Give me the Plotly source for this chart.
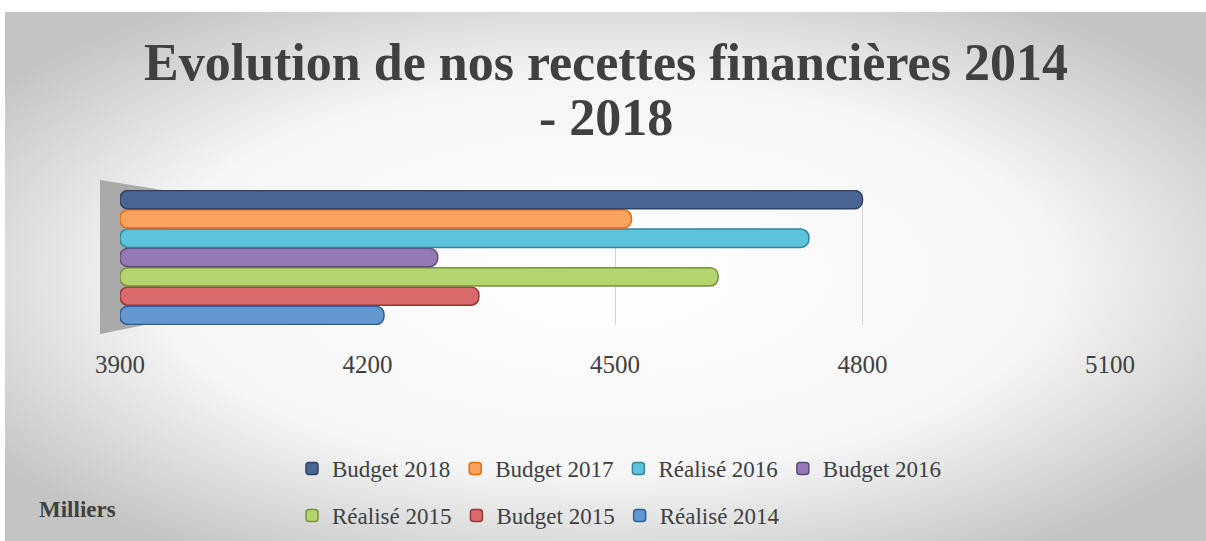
import base64
import plotly.graph_objects as go

# values in thousands
series = ["Réalisé 2014", "Budget 2015", "Réalisé 2015", "Budget 2016",
          "Réalisé 2016", "Budget 2017", "Budget 2018"]
values = [4220, 4335, 4625, 4285, 4735, 4520, 4800]
fills = ["#6496d0", "#d9696a", "#b3d46f", "#9479b5", "#5dc3dc", "#f9a45e", "#4a6591"]
edges = ["#2f5f98", "#953735", "#76923c", "#5f4b7b", "#31859c", "#e46c0a", "#2c4266"]
ticks = [3900, 4200, 4500, 4800, 5100]
category = [""]
title_lines = ["Evolution de nos recettes financières 2014", "- 2018"]

W, H = 1206, 541
L, R, T, B = 120, 1110, 190, 325  # plot area in pixels
GREY = "#404040"

def px(x, y):
    return (x - L) / (R - L), (B - y) / (B - T)

fig = go.Figure()
for i, (name, v) in enumerate(zip(series, values)):
    fig.add_trace(go.Bar(
        y=category, x=[v - ticks[0]], base=ticks[0], name=name, orientation="h",
        marker=dict(color=fills[i], line=dict(color=edges[i], width=1.5), cornerradius=8),
        legend="legend" if i >= 3 else "legend2",
    ))

# soft radial background like the office chart
svg = ("<svg xmlns='http://www.w3.org/2000/svg' width='1201' height='529' preserveAspectRatio='none'>"
       "<defs><radialGradient id='g' cx='50%' cy='50%' r='62%'>"
       "<stop offset='0' stop-color='#ffffff'/><stop offset='0.6' stop-color='#f6f6f6'/>"
       "<stop offset='1' stop-color='#c4c4c4'/></radialGradient></defs>"
       "<rect width='100%' height='100%' fill='url(#g)'/></svg>")
src = "data:image/svg+xml;base64," + base64.b64encode(svg.encode()).decode()
x0, y0 = px(5, 12)
fig.add_layout_image(dict(source=src, xref="paper", yref="paper", x=x0, y=y0,
                          sizex=(W - 5) / (R - L), sizey=(H - 12) / (B - T),
                          xanchor="left", yanchor="top", sizing="stretch", layer="below"))

# grey side wall
pts = [px(100, 180), px(168, 191), px(160, 322), px(100, 334)]
path = "M " + " L ".join(f"{a},{b}" for a, b in pts) + " Z"
fig.add_shape(type="path", path=path, xref="paper", yref="paper",
              fillcolor="#a9a9a9", line=dict(width=0), layer="below")

# title, two lines
for text, yc in zip(title_lines, [62, 118]):
    fig.add_annotation(text=f"<b>{text}</b>", x=px(606, 0)[0], y=px(0, yc)[1],
                       xref="paper", yref="paper", xanchor="center", yanchor="middle",
                       showarrow=False, font=dict(family="Liberation Serif", size=52, color=GREY))

fig.add_annotation(text="<b>Milliers</b>", x=px(37, 0)[0], y=px(0, 509)[1],
                   xref="paper", yref="paper", xanchor="left", yanchor="middle",
                   showarrow=False, font=dict(family="Liberation Serif", size=23, color=GREY))

font = dict(family="Liberation Serif", size=23, color=GREY)
fig.update_layout(
    width=W, height=H,
    margin=dict(l=L, r=W - R, t=T, b=H - B, autoexpand=False),
    paper_bgcolor="white", plot_bgcolor="rgba(0,0,0,0)",
    barmode="group", bargap=0, bargroupgap=0.05,
    xaxis=dict(range=[ticks[0], ticks[-1]], tickvals=ticks, showgrid=True, gridcolor="#d4d4d4",
               zeroline=False, showline=False, ticks="outside", ticklen=17, tickcolor="rgba(0,0,0,0)",
               tickfont=dict(family="Liberation Serif", size=25, color=GREY)),
    yaxis=dict(showticklabels=False, showgrid=False, zeroline=False),
    legend=dict(orientation="h", traceorder="reversed", x=px(292, 0)[0], y=px(0, 447)[1],
                xanchor="left", yanchor="top", font=font, bgcolor="rgba(0,0,0,0)"),
    legend2=dict(orientation="h", traceorder="reversed", x=px(292, 0)[0], y=px(0, 494)[1],
                 xanchor="left", yanchor="top", font=font, bgcolor="rgba(0,0,0,0)"),
    showlegend=True,
)

fig.write_html("out.html", config={"displayModeBar": False},
               post_script="document.body.style.margin='0';")
